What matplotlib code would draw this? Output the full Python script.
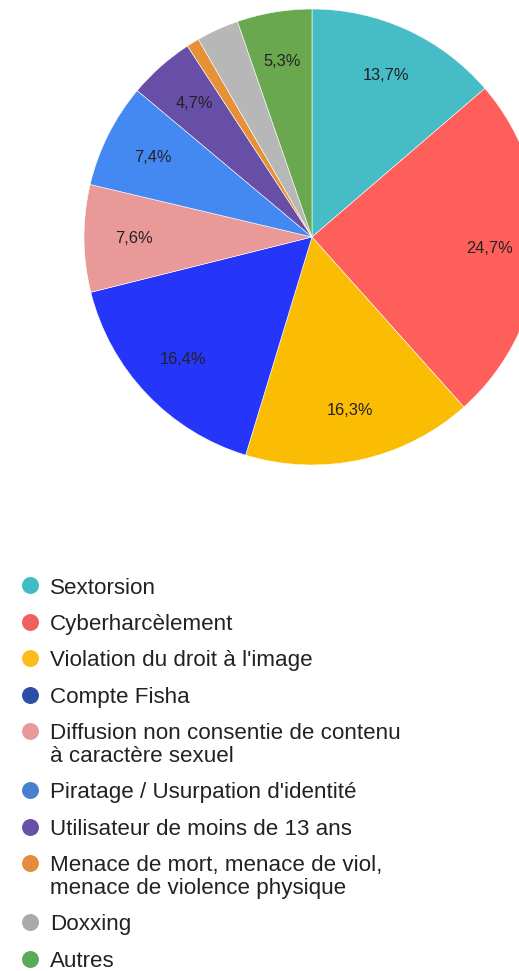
import matplotlib.pyplot as plt

# Pie data (percent shares)
labels = [
    "Sextorsion",
    "Cyberharcèlement",
    "Violation du droit à l'image",
    "Compte Fisha",
    "Diffusion non consentie de contenu\nà caractère sexuel",
    "Piratage / Usurpation d'identité",
    "Utilisateur de moins de 13 ans",
    "Menace de mort, menace de viol,\nmenace de violence physique",
    "Doxxing",
    "Autres",
]
values = [13.7, 24.7, 16.3, 16.4, 7.6, 7.4, 4.7, 0.9, 3.0, 5.3]
pie_colors = ["#46bdc6", "#ff5f5b", "#fbbc04", "#2536fa", "#ea9999",
              "#4489f2", "#674ea7", "#e69138", "#b7b7b7", "#6aa84f"]
legend_colors = ["#3fbcc4", "#f06060", "#fbbc1c", "#2c4fa6", "#e89a9a",
                 "#4a7fd0", "#6650a8", "#e58c3c", "#aaaaaa", "#5aab58"]

W, H = 519, 971
fig = plt.figure(figsize=(W / 100, H / 100), dpi=100)
plt.rcParams['font.family'] = ['Liberation Sans', 'DejaVu Sans']

# pie axes: centre (312, 237) px, radius 228 px
cx, cy, r = 312, 237, 228
ax = fig.add_axes([(cx - r) / W, 1 - (cy + r) / H, 2 * r / W, 2 * r / H])


def fmt(p):
    # hide labels of tiny slices, french decimal comma
    return f"{p:.1f}%".replace('.', ',') if p >= 4 else ""


wedges, texts, autotexts = ax.pie(
    values, colors=pie_colors, startangle=90, counterclock=False,
    radius=1, autopct=fmt, pctdistance=0.78,
    wedgeprops=dict(edgecolor='white', linewidth=0.4),
    textprops=dict(fontsize=11.8, color='#222222'))
ax.set_xlim(-1, 1)
ax.set_ylim(-1, 1)
ax.set_aspect('equal')
ax.axis('off')
for w in wedges:
    w.set_clip_on(False)

# legend drawn by hand in a pixel-space overlay
lg = fig.add_axes([0, 0, 1, 1], facecolor='none')
lg.set_xlim(0, W)
lg.set_ylim(H, 0)
lg.axis('off')

y = 585.5
for lab, col in zip(labels, legend_colors):
    lines = lab.split("\n")
    lg.plot([30], [y], marker='o', ms=12.2, color=col, mec='none', clip_on=False)
    for i, line in enumerate(lines):
        lg.text(50, y + 8 + i * 22.5, line, fontsize=16.1,
                color='#222222', ha='left', va='baseline')
    y += 36.45 + 22.5 * (len(lines) - 1)

fig.savefig("out.png", dpi=100)
